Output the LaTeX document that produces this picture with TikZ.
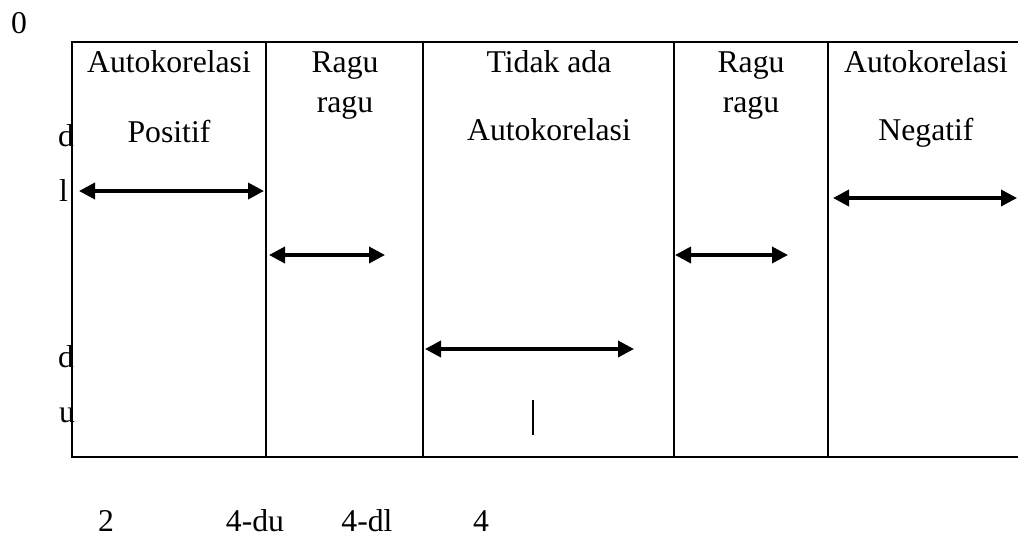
\documentclass[tikz,border=0pt]{standalone}
\usepackage{fontspec}
\setmainfont{Liberation Serif}
\usetikzlibrary{arrows.meta}
\begin{document}
\begin{tikzpicture}[x=1pt,y=-1pt,
  lbl/.style={inner sep=0pt,anchor=base,font=\fontsize{31.7}{40}\selectfont},
  side/.style={inner sep=0pt,anchor=base west,font=\fontsize{31.7}{40}\selectfont},
  boxline/.style={line width=2pt,line cap=rect},
  dbl/.style={line width=3.6pt,{Triangle[length=16pt,width=16pt]}-{Triangle[length=16pt,width=16pt]}},
  tick/.style={line width=1.6pt}]
\useasboundingbox (0,0) rectangle (1018,533);
% labels
\node[lbl] (zero) at (19,33) {0};
\node[lbl] (c1a) at (169,72) {Autokorelasi};
\node[lbl] (c1b) at (169,142) {Positif};
\node[lbl] (c2a) at (345,72) {Ragu};
\node[lbl] (c2b) at (345,112) {ragu};
\node[lbl] (c3a) at (549,72) {Tidak ada};
\node[lbl] (c3b) at (549,140) {Autokorelasi};
\node[lbl] (c4a) at (751,72) {Ragu};
\node[lbl] (c4b) at (751,112) {ragu};
\node[lbl] (c5a) at (926,72) {Autokorelasi};
\node[lbl] (c5b) at (926,140) {Negatif};
\node[side] (sd1) at (58,146) {d};
\node[side] (sl) at (59,201) {l};
\node[side] (sd2) at (58,367) {d};
\node[side] (su) at (59,422) {u};
\node[lbl] (b2) at (106,531) {2};
\node[lbl] (bdu) at (255,531) {4-du};
\node[lbl] (bdl) at (367,531) {4-dl};
\node[lbl] (b4) at (481,531) {4};
% box
\draw[boxline] (72,42) -- (1018,42);
\draw[boxline] (72,457) -- (1018,457);
\foreach \x in {72,266,423,674,828}{\draw[boxline] (\x,42) -- (\x,457);}
% arrows
\coordinate (a1l) at (79,191); \coordinate (a1r) at (264,191);
\coordinate (a2l) at (269,255); \coordinate (a2r) at (385,255);
\coordinate (a3l) at (425,349); \coordinate (a3r) at (634,349);
\coordinate (a4l) at (675,255); \coordinate (a4r) at (788,255);
\coordinate (a5l) at (833,198); \coordinate (a5r) at (1017,198);
\draw[dbl] (a1l) -- (a1r);
\draw[dbl] (a2l) -- (a2r);
\draw[dbl] (a3l) -- (a3r);
\draw[dbl] (a4l) -- (a4r);
\draw[dbl] (a5l) -- (a5r);
\coordinate (t1) at (533,400); \coordinate (t2) at (533,435);
\draw[tick] (t1) -- (t2);
\end{tikzpicture}
\end{document}
